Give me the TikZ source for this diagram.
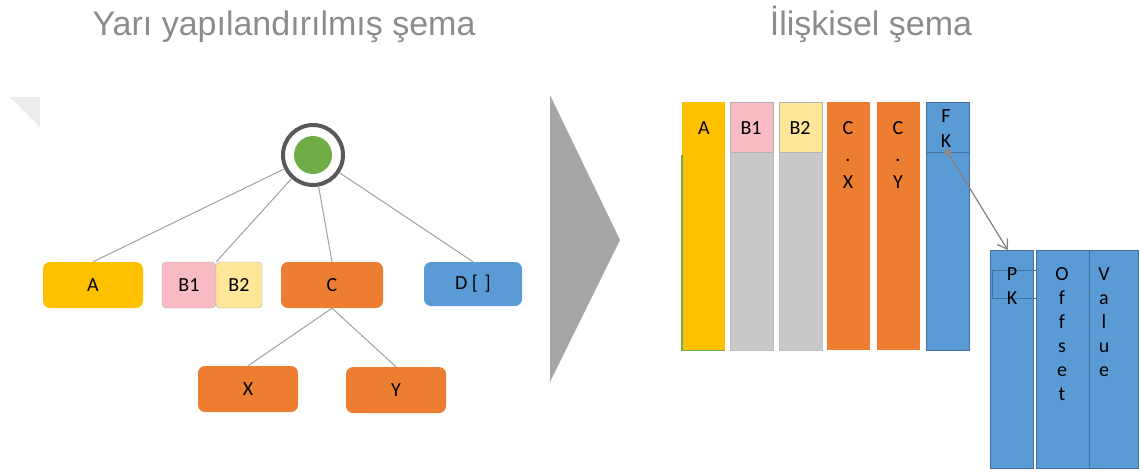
\documentclass[tikz,border=0pt]{standalone}
\usepackage{fontspec}
\setmainfont{Carlito}
\newfontfamily\headfont{Liberation Sans}
\usetikzlibrary{arrows.meta}
\definecolor{titlegray}{HTML}{8C8C8C}
\definecolor{ringgray}{HTML}{595959}
\definecolor{leafgreen}{HTML}{70AD47}
\definecolor{linegray}{HTML}{A0A0A0}
\definecolor{ayellow}{HTML}{FFC000}
\definecolor{bpink}{HTML}{F8BBC4}
\definecolor{bcream}{HTML}{FFE699}
\definecolor{corange}{HTML}{ED7D31}
\definecolor{dblue}{HTML}{5B9BD5}
\definecolor{blueedge}{HTML}{41719C}
\definecolor{colgray}{HTML}{C9C9C9}
\definecolor{shapegray}{HTML}{A6A6A6}
\definecolor{dotgray}{HTML}{8F8A80}

\begin{document}
\begin{tikzpicture}[x=1pt,y=-1pt,
    title/.style={font=\headfont\fontsize{34}{34}\selectfont,text=titlegray,anchor=base,inner sep=0pt},
    tree node/.style={rounded corners=7pt,minimum width=100pt,minimum height=46pt,inner sep=0pt,font=\fontsize{20}{20}\selectfont},
    half node/.style={rounded corners=4pt,minimum height=46pt,inner sep=0pt,draw=gray!60,font=\fontsize{20}{20}\selectfont},
    column/.style={anchor=north west,minimum width=43pt,minimum height=248pt,inner sep=0pt},
    headcell/.style={anchor=north west,minimum width=43pt,minimum height=50pt,inner sep=0pt},
    tag/.style={inner sep=0pt,align=center,font=\fontsize{20}{#1}\selectfont},
    tag/.default=24
  ]
  \useasboundingbox (0,0) rectangle (1142,471);

  \node[title] (lefttitle) at (284,35) {Yarı yapılandırılmış şema};
  \node[title] (righttitle) at (871,35) {İlişkisel şema};

  \fill[gray!15] (10,97) -- (40,97) -- (40,127) -- cycle;
  \fill[shapegray] (550,95) -- (620,240) -- (550,382) -- cycle;

  % tree
  \node[circle,draw=ringgray,line width=4pt,fill=white,minimum size=60pt] (root) at (313,155) {};
  \node[circle,fill=leafgreen,minimum size=38pt,inner sep=0pt] (leaf) at (root) {};
  \node[tree node,fill=ayellow] (a) at (93,285) {A};
  \node[half node,fill=bpink,minimum width=54pt] (b1) at (189,285) {B1};
  \node[half node,fill=bcream,minimum width=46pt] (b2) at (239,285) {B2};
  \node[tree node,fill=corange,minimum width=102pt] (c) at (332,285) {C};
  \node[tree node,fill=dblue,minimum width=98pt,minimum height=44pt] (d) at (473,284) {D [\,\,]};
  \node[tree node,fill=corange] (x) at (248,389) {X};
  \node[tree node,fill=corange] (y) at (396,390) {Y};

  \path[draw=linegray,line width=1pt]
   (root) edge (a.north)
   (root) edge (b1.north east)
   (root) edge (c.north)
   (root) edge (d.north)
   (c.south) edge (x.north)
   (c.south) edge (y.north);

  % relational table
  \node[column,fill=ayellow] (colA) at (682,102) {};
  \draw[leafgreen,line width=1.2pt] ([yshift=-53pt]colA.north west) -- (colA.south west) -- (colA.south east);
  \node[column,fill=colgray,draw=gray!50] (colB1) at (730,102) {};
  \node[headcell,fill=bpink,draw=gray!60] (headB1) at (730,102) {};
  \node[column,fill=colgray,draw=gray!50] (colB2) at (779,102) {};
  \node[headcell,fill=bcream,draw=gray!60] (headB2) at (779,102) {};
  \node[column,fill=corange] (colCX) at (827,102) {};
  \node[column,fill=corange] (colCY) at (877,102) {};
  \node[column,fill=dblue,draw=blueedge] (colFK) at (926,102) {};
  \node[headcell,draw=blueedge] (headFK) at (926,102) {};

  \node[tag] (tagA) at (704,128) {A};
  \node[tag] (tagB1) at (751,128) {B1};
  \node[tag] (tagB2) at (800,128) {B2};
  \node[tag=27,anchor=north] (tagCX) at (848,121) {C\\.\\X};
  \node[tag=27,anchor=north] (tagCY) at (898,121) {C\\.\\Y};
  \node[tag=25,anchor=north] (tagFK) at (946,109) {F\\K};

  \node[column,fill=dblue,draw=blueedge,minimum height=218pt] (pk) at (990,250) {};
  \node[column,fill=dblue,draw=blueedge,minimum width=53pt,minimum height=218pt] (offset) at (1036,250) {};
  \node[column,fill=dblue,draw=blueedge,minimum width=49pt,minimum height=218pt] (value) at (1089,250) {};
  \node[headcell,draw=blueedge,minimum width=44pt,minimum height=28pt] (pkcell) at (992,270) {};

  \node[tag,anchor=north] (tagPK) at (1012,267) {P\\K};
  \node[tag,anchor=north] (tagOffset) at (1062,267) {O\\f\\f\\s\\e\\t};
  \node[tag,anchor=north] (tagValue) at (1104,267) {V\\a\\l\\u\\e};

  \node[circle,fill=dotgray,minimum size=7pt,inner sep=0pt] (fkdot) at (headFK.south) {};
  \draw[-{Straight Barb[length=9pt,width=12pt]},line width=1.2pt,draw=gray] (fkdot) -- ([xshift=-4pt]pk.north);
\end{tikzpicture}
\end{document}
